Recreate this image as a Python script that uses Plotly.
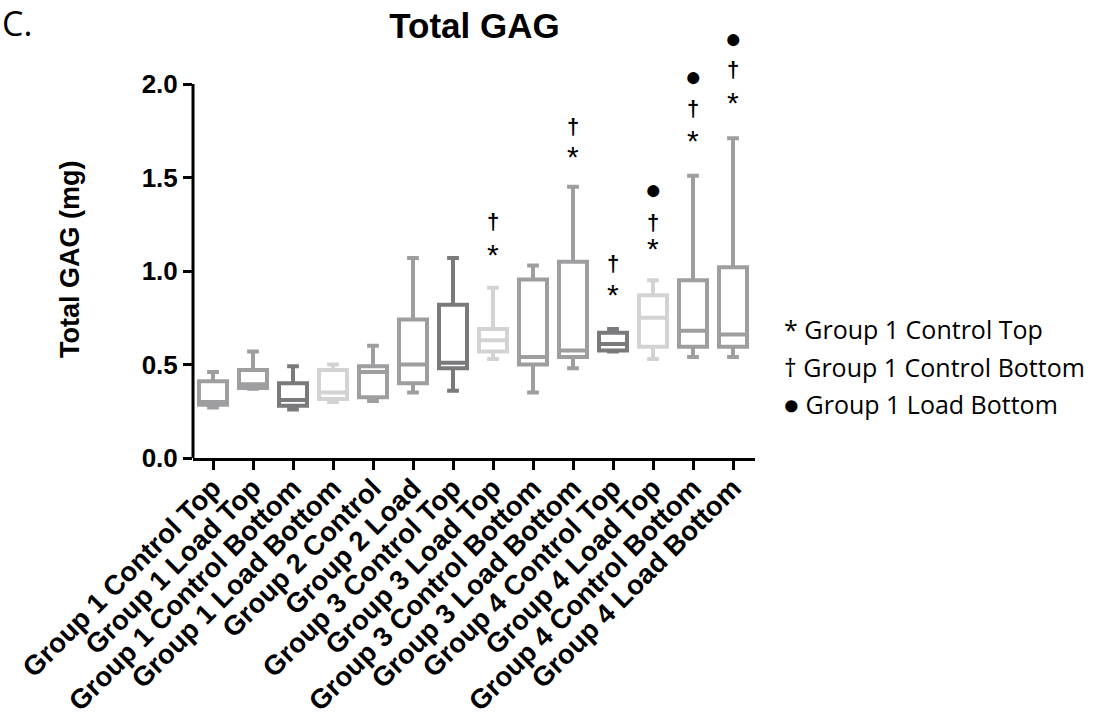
import plotly.graph_objects as go

categories = [
    "Group 1 Control Top", "Group 1 Load Top", "Group 1 Control Bottom", "Group 1 Load Bottom",
    "Group 2 Control", "Group 2 Load", "Group 3 Control Top", "Group 3 Load Top",
    "Group 3 Control Bottom", "Group 3 Load Bottom", "Group 4 Control Top", "Group 4 Load Top",
    "Group 4 Control Bottom", "Group 4 Load Bottom",
]
q_min = [0.27, 0.37, 0.26, 0.30, 0.305, 0.35, 0.36, 0.53, 0.35, 0.48, 0.57, 0.53, 0.54, 0.54]
q1 = [0.285, 0.375, 0.28, 0.315, 0.325, 0.40, 0.48, 0.57, 0.50, 0.54, 0.575, 0.595, 0.595, 0.595]
median = [0.30, 0.395, 0.31, 0.35, 0.46, 0.50, 0.51, 0.63, 0.54, 0.575, 0.61, 0.75, 0.68, 0.66]
q3 = [0.41, 0.47, 0.40, 0.47, 0.49, 0.74, 0.82, 0.69, 0.955, 1.05, 0.67, 0.87, 0.95, 1.02]
q_max = [0.46, 0.57, 0.49, 0.50, 0.60, 1.07, 1.07, 0.91, 1.03, 1.45, 0.69, 0.95, 1.51, 1.71]
shade = ["mid", "mid", "dark", "light", "mid", "mid", "dark", "light",
         "mid", "mid", "dark", "light", "mid", "mid"]

# significance markers (category, height in mg)
star_cats = ["Group 3 Load Top", "Group 3 Load Bottom", "Group 4 Control Top",
             "Group 4 Load Top", "Group 4 Control Bottom", "Group 4 Load Bottom"]
star_y = [1.103, 1.629, 0.889, 1.139, 1.715, 1.918]
dagger_cats = star_cats
dagger_y = [1.265, 1.771, 1.041, 1.257, 1.871, 2.075]
dot_cats = ["Group 4 Load Top", "Group 4 Control Bottom", "Group 4 Load Bottom"]
dot_y = [1.437, 2.039, 2.244]

y_ticks = [0.0, 0.5, 1.0, 1.5, 2.0]

legend_lines = ["* Group 1 Control Top", "† Group 1 Control Bottom", "● Group 1 Load Bottom"]

colors = {"mid": "#9e9ea1", "dark": "#7a7a7d", "light": "#d3d3d5"}

W, H = 1106, 719
# pixel geometry of the axes (y=0 at 458, y=2.0 at 84)
AX_L, AX_R, AX_Y0, AX_Y2 = 193, 755, 458, 84
PLOT_TOP = 28  # plot area extends above 2.0 so the markers can sit there
L, R, B, T = AX_L, AX_R, AX_Y0, PLOT_TOP
y_max = (AX_Y0 - PLOT_TOP) / (AX_Y0 - AX_Y2) * y_ticks[-1]


def px_x(p):
    return (p - L) / (R - L)


def px_y(p):
    return (B - p) / (B - T)


ARIAL = "Liberation Sans, Arial, Helvetica, sans-serif"
CAL = "Open Sans, Lato, sans-serif"

fig = go.Figure()
for i, c in enumerate(categories):
    col = colors[shade[i]]
    fig.add_trace(go.Box(
        x=[c], q1=[q1[i]], median=[median[i]], q3=[q3[i]],
        lowerfence=[q_min[i]], upperfence=[q_max[i]],
        width=0.7, whiskerwidth=0.42,
        line=dict(color=col, width=4), fillcolor="white",
        boxpoints=False, showlegend=False, hoverinfo="skip",
    ))

annotations = []
for c, y in zip(star_cats, star_y):
    annotations.append(dict(text="*", x=c, y=y, xref="x", yref="y", showarrow=False,
                            yanchor="middle", yshift=-3,
                            font=dict(family=ARIAL, size=30, color="black")))
for c, y in zip(dagger_cats, dagger_y):
    annotations.append(dict(text="†", x=c, y=y, xref="x", yref="y", showarrow=False,
                            yanchor="middle", yshift=0,
                            font=dict(family=ARIAL, size=22, color="black", weight="bold")))
for c, y in zip(dot_cats, dot_y):
    annotations.append(dict(text="●", x=c, y=y, xref="x", yref="y", showarrow=False,
                            yanchor="middle", yshift=0,
                            font=dict(family=ARIAL, size=28, color="black")))

annotations += [
    dict(text="C.", x=px_x(0), y=px_y(23), xref="paper", yref="paper", xanchor="left",
         yanchor="middle", showarrow=False, font=dict(family=CAL, size=34, color="black")),
    dict(text="Total GAG (mg)", x=px_x(70), y=px_y(260), xref="paper", yref="paper",
         textangle=-90, xanchor="center", yanchor="middle", showarrow=False,
         font=dict(family=ARIAL, size=27, color="black", weight="bold")),
]
for txt, yy in zip(legend_lines, [329, 367, 404]):
    annotations.append(dict(text=txt, x=px_x(782), y=px_y(yy), xref="paper", yref="paper",
                            xanchor="left", yanchor="middle", showarrow=False,
                            font=dict(family=CAL, size=25, color="black")))

fig.update_layout(
    width=W, height=H,
    margin=dict(l=L, r=W - R, t=T, b=H - B, pad=0),
    paper_bgcolor="white", plot_bgcolor="white",
    boxmode="overlay",
    title=dict(text="Total GAG", x=px_x(474.5), xref="paper", xanchor="center",
               y=1 - 26 / H, yref="container", yanchor="middle",
               font=dict(family=ARIAL, size=35, color="black", weight="bold")),
    annotations=annotations,
    shapes=[dict(type="line", xref="paper", yref="y", x0=0, x1=0, y0=0, y1=y_ticks[-1],
                 line=dict(color="black", width=3), layer="above")],
)
fig.update_xaxes(
    categoryorder="array", categoryarray=categories, range=[-0.5, 13.55],
    showline=True, linewidth=3, linecolor="black", ticks="outside", ticklen=9,
    tickwidth=2.5, tickcolor="black", tickangle=-45, showgrid=False, zeroline=False,
    automargin=False, ticklabelstandoff=-9,
    tickfont=dict(family=ARIAL, size=27.5, color="black", weight="bold"),
)
fig.update_yaxes(
    range=[0, y_max], tickvals=y_ticks, tickformat=".1f",
    showline=False, ticks="outside", ticklen=9, automargin=False,
    tickwidth=2.5, tickcolor="black", showgrid=False, zeroline=False,
    tickfont=dict(family=ARIAL, size=26, color="black", weight="bold"),
)
fig.write_html("out.html", config={"displayModeBar": False},
               post_script="document.body.style.margin='0';")
